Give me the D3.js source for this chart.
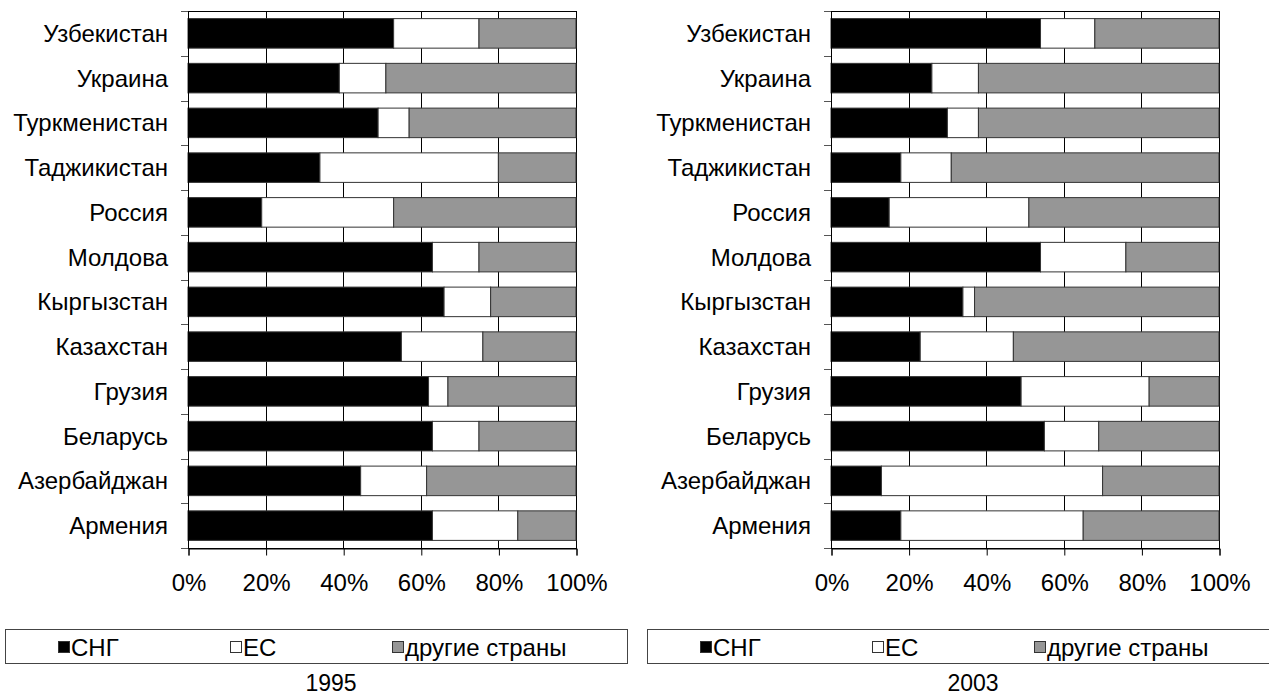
<!DOCTYPE html>
<html>
<head>
<meta charset="utf-8">
<script src="https://cdn.jsdelivr.net/npm/d3@7"></script>
<style>
    body { margin: 0; background: #fff; }
    svg text { font-family: "Liberation Sans", Arial, sans-serif; fill: #000; }
</style>
</head>
<body>
<svg id="chart" width="1269" height="700"></svg>
<script>
'use strict';

/*
    Data
*/

const COUNTRIES = ['Узбекистан', 'Украина', 'Туркменистан', 'Таджикистан', 'Россия', 'Молдова',
    'Кыргызстан', 'Казахстан', 'Грузия', 'Беларусь', 'Азербайджан', 'Армения'];

const SERIES = ['СНГ', 'ЕС', 'другие страны'];

const CIS_1995   = [53, 39, 49, 34, 19, 63, 66, 55, 62, 63, 44.5, 63];
const EU_1995    = [22, 12,  8, 46, 34, 12, 12, 21,  5, 12, 17,   22];
const OTHER_1995 = [25, 49, 43, 20, 47, 25, 22, 24, 33, 25, 38.5, 15];

const CIS_2003   = [54, 26, 30, 18, 15, 54, 34, 23, 49, 55, 13, 18];
const EU_2003    = [14, 12,  8, 13, 36, 22,  3, 24, 33, 14, 57, 47];
const OTHER_2003 = [32, 62, 62, 69, 49, 24, 63, 53, 18, 31, 30, 35];

const X_TICKS = [0, 20, 40, 60, 80, 100];

/*
    Constants
*/

const SVG = d3.select('#chart');

const COLORS = ['#000000', '#ffffff', '#969696'];

const PLOT = Object.freeze({
    TOP    : 11,
    HEIGHT : 537,
    WIDTH  : 388
});

const FONT = Object.freeze({
    LABEL  : 24,
    TICK   : 24,
    LEGEND : 24,
    YEAR   : 23
});

const LEGEND = Object.freeze({
    TOP    : 629,
    HEIGHT : 34,
    WIDTH  : 622,
    ITEM_X : [53, 225, 387]
});

/*
    Functions
*/

function buildRows(cis, eu, other) {
    return COUNTRIES.map((c, i) => ({ country : c, 0 : cis[i], 1 : eu[i], 2 : other[i] }));
}

function drawPanel(left, rows, year, legendLeft) {

    const g = SVG.append('g');

    const x = d3.scaleLinear()
                .domain([0, 100])
                .range([left, left + PLOT.WIDTH]);

    const y = d3.scaleBand()
                .domain(COUNTRIES)
                .range([PLOT.TOP, PLOT.TOP + PLOT.HEIGHT])
                .paddingInner(0.34)
                .paddingOuter(0.17);

    const bottom = PLOT.TOP + PLOT.HEIGHT;

    // Plot frame
    g.append('rect')
        .attr('x', left + 0.5)
        .attr('y', PLOT.TOP + 0.5)
        .attr('width', PLOT.WIDTH)
        .attr('height', PLOT.HEIGHT)
        .attr('fill', 'none')
        .attr('stroke', '#000');

    // Vertical grid lines
    g.selectAll('.grid')
        .data(X_TICKS.slice(1, -1))
        .join('line')
        .attr('x1', d => Math.round(x(d)) + 0.5)
        .attr('x2', d => Math.round(x(d)) + 0.5)
        .attr('y1', PLOT.TOP)
        .attr('y2', bottom)
        .attr('stroke', '#000');

    // Stacked bars
    const stack = d3.stack().keys([0, 1, 2])(rows);

    g.selectAll('.series')
        .data(stack)
        .join('g')
        .attr('fill', (d, i) => COLORS[i])
        .selectAll('rect')
        .data(d => d)
        .join('rect')
        .attr('x', d => x(d[0]))
        .attr('width', d => x(d[1]) - x(d[0]))
        .attr('y', d => y(d.data.country))
        .attr('height', y.bandwidth())
        .attr('stroke', '#333')
        .attr('stroke-width', 1);

    // Y axis line and category boundary ticks
    const step = y.step();
    const bounds = d3.range(COUNTRIES.length + 1).map(i => PLOT.TOP + i * step);

    g.append('line')
        .attr('x1', left + 0.5)
        .attr('x2', left + 0.5)
        .attr('y1', PLOT.TOP)
        .attr('y2', bottom)
        .attr('stroke', '#000');

    g.selectAll('.ytick')
        .data(bounds)
        .join('line')
        .attr('x1', left - 7)
        .attr('x2', left)
        .attr('y1', d => Math.round(d) + 0.5)
        .attr('y2', d => Math.round(d) + 0.5)
        .attr('stroke', '#555');

    g.selectAll('.ylabel')
        .data(COUNTRIES)
        .join('text')
        .attr('x', left - 20)
        .attr('y', d => y(d) + y.bandwidth() / 2)
        .attr('dy', '0.35em')
        .attr('text-anchor', 'end')
        .attr('font-size', FONT.LABEL)
        .text(d => d);

    // X axis
    const xAxis = d3.axisBottom(x)
                    .tickValues(X_TICKS)
                    .tickSize(7)
                    .tickPadding(18)
                    .tickFormat(d => d + '%');

    g.append('g')
        .attr('transform', `translate(0.5,${bottom + 0.5})`)
        .call(xAxis)
        .call(a => a.selectAll('text')
                    .attr('font-size', FONT.TICK)
                    .attr('font-family', '"Liberation Sans", Arial, sans-serif')
                    .attr('fill', '#000'))
        .call(a => a.selectAll('line, path').attr('stroke', '#000'));

    // Legend
    const lg = g.append('g')
                .attr('transform', `translate(${legendLeft},${LEGEND.TOP})`);

    lg.append('rect')
        .attr('x', 0.5)
        .attr('y', 0.5)
        .attr('width', LEGEND.WIDTH)
        .attr('height', LEGEND.HEIGHT)
        .attr('fill', '#fff')
        .attr('stroke', '#444');

    const items = lg.selectAll('.item')
                    .data(SERIES)
                    .join('g')
                    .attr('transform', (d, i) => `translate(${LEGEND.ITEM_X[i]},0)`);

    items.append('rect')
        .attr('x', 0.5)
        .attr('y', 12.5)
        .attr('width', 11)
        .attr('height', 11)
        .attr('fill', (d, i) => COLORS[i])
        .attr('stroke', '#333');

    items.append('text')
        .attr('x', 13)
        .attr('y', 18.5)
        .attr('dy', '0.35em')
        .attr('font-size', FONT.LEGEND)
        .text(d => d);

    // Year caption
    g.append('text')
        .attr('x', legendLeft + 326)
        .attr('y', 683)
        .attr('dy', '0.35em')
        .attr('text-anchor', 'middle')
        .attr('font-size', FONT.YEAR)
        .text(year);
}

/*
    D3 code
*/

drawPanel(188, buildRows(CIS_1995, EU_1995, OTHER_1995), '1995', 5);
drawPanel(831, buildRows(CIS_2003, EU_2003, OTHER_2003), '2003', 647);
</script>
</body>
</html>
